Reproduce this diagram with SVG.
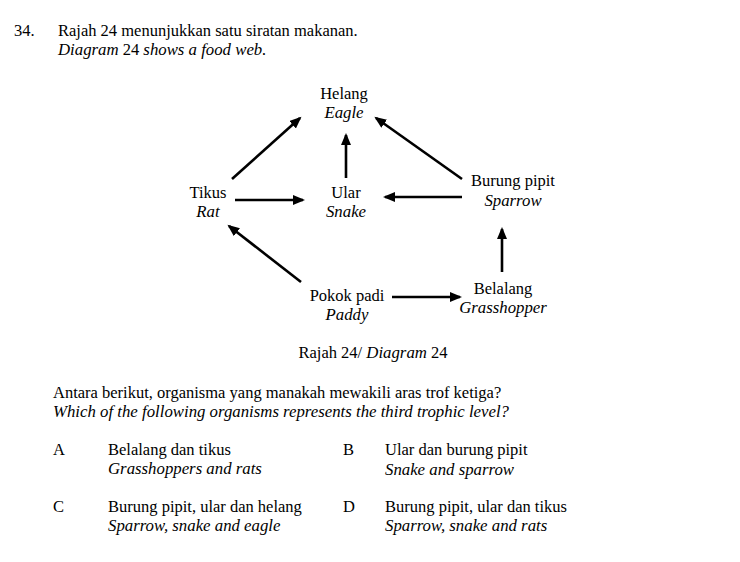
<svg xmlns="http://www.w3.org/2000/svg" width="740" height="562" viewBox="0 0 740 562">
<defs>
<style>
text{font-family:"Liberation Serif","Times New Roman",serif;font-size:16.5px;fill:#000}
.i{font-style:italic;font-size:16.8px}
.c{text-anchor:middle}
.ln{stroke:#000;stroke-width:2.6;fill:none;marker-end:url(#ah)}
</style>
<marker id="ah" markerUnits="userSpaceOnUse" markerWidth="14" markerHeight="12" refX="10" refY="5" orient="auto">
<path d="M0,0 L12,5 L0,10 z" fill="#000"/>
</marker>
</defs>
<rect width="740" height="562" fill="#fff"/>
<g id="question-header">
<text x="14" y="36">34.</text>
<text x="58" y="36">Rajah 24 menunjukkan satu siratan makanan.</text>
<text x="58" y="55"><tspan class="i">Diagram</tspan> 24 <tspan class="i">shows a food web.</tspan></text>
</g>
<g id="connectors">
<line class="ln" x1="232" y1="179" x2="300" y2="118"/>
<line class="ln" x1="346" y1="178" x2="346" y2="135"/>
<line class="ln" x1="462" y1="179" x2="376" y2="118"/>
<line class="ln" x1="235" y1="200" x2="303" y2="200"/>
<line class="ln" x1="462" y1="197" x2="385" y2="197"/>
<line class="ln" x1="301" y1="282" x2="229" y2="226"/>
<line class="ln" x1="392" y1="297" x2="460" y2="297"/>
<line class="ln" x1="502" y1="272" x2="502" y2="229"/>
</g>
<g id="node-eagle">
<text class="c" x="344" y="99">Helang</text>
<text class="c i" x="344" y="118">Eagle</text>
</g>
<g id="node-rat">
<text class="c" x="208" y="198">Tikus</text>
<text class="c i" x="208" y="217">Rat</text>
</g>
<g id="node-snake">
<text class="c" x="346" y="198">Ular</text>
<text class="c i" x="346" y="217">Snake</text>
</g>
<g id="node-sparrow">
<text class="c" x="513" y="186">Burung pipit</text>
<text class="c i" x="513" y="206">Sparrow</text>
</g>
<g id="node-paddy">
<text class="c" x="347" y="301">Pokok padi</text>
<text class="c i" x="347" y="320">Paddy</text>
</g>
<g id="node-grasshopper">
<text class="c" x="503" y="294">Belalang</text>
<text class="c i" x="503" y="313">Grasshopper</text>
</g>
<g id="caption">
<text class="c" x="373" y="358">Rajah 24/ <tspan class="i">Diagram</tspan> 24</text>
</g>
<g id="question">
<text x="53" y="398">Antara berikut, organisma yang manakah mewakili aras trof ketiga?</text>
<text class="i" x="53" y="417">Which of the following organisms represents the third trophic level?</text>
</g>
<g id="options">
<text x="53" y="455">A</text>
<text x="108" y="455">Belalang dan tikus</text>
<text class="i" x="108" y="474">Grasshoppers and rats</text>
<text x="343" y="455">B</text>
<text x="385" y="455">Ular dan burung pipit</text>
<text class="i" x="385" y="475">Snake and sparrow</text>
<text x="53" y="512">C</text>
<text x="108" y="512">Burung pipit, ular dan helang</text>
<text class="i" x="108" y="531">Sparrow, snake and eagle</text>
<text x="343" y="512">D</text>
<text x="385" y="512">Burung pipit, ular dan tikus</text>
<text class="i" x="385" y="531">Sparrow, snake and rats</text>
</g>
</svg>
